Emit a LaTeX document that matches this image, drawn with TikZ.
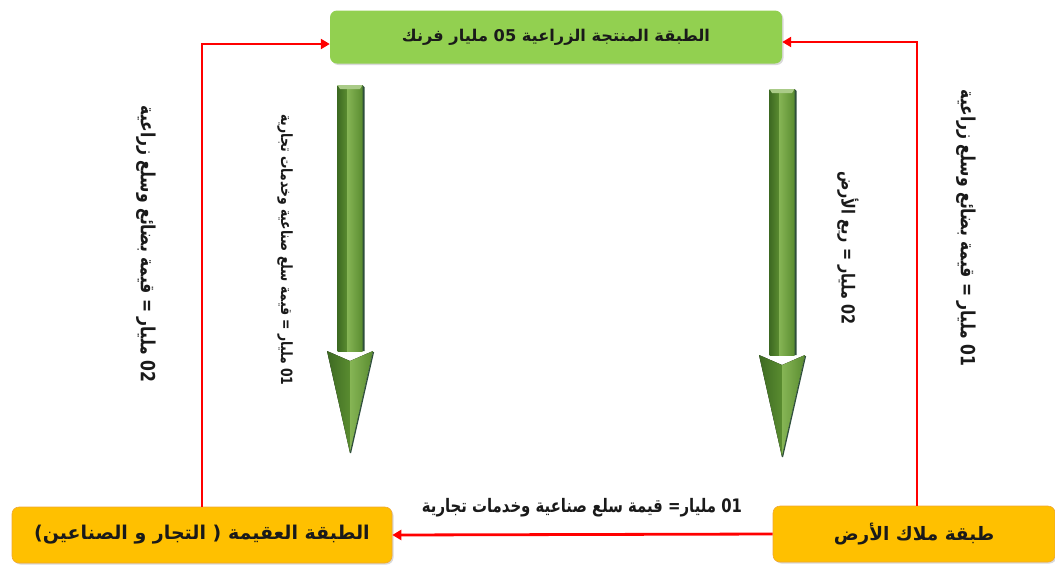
\documentclass[tikz,border=0pt]{standalone}
\usepackage{fontspec}
\usetikzlibrary{arrows.meta,shadows}
\TeXXeTstate=1
\newfontfamily\arabicfont[Script=Arabic]{DejaVu Sans}
\newfontfamily\arabicnarrow[Script=Arabic,FakeStretch=0.8]{DejaVu Sans}
\definecolor{boxgreen}{HTML}{92D050}
\definecolor{boxgold}{HTML}{FFC000}
\definecolor{goldedge}{HTML}{F0A830}
\definecolor{linered}{HTML}{FF0000}
\definecolor{gdark}{HTML}{3D6A22}
\definecolor{gmid}{HTML}{5A8C30}
\definecolor{glight}{HTML}{86B555}
\definecolor{gedge}{HTML}{2E4F3A}
\definecolor{txt}{HTML}{1A1A1A}
\tikzset{
  classbox/.style={rounded corners=7pt, inner sep=0pt, text=txt,
    drop shadow={shadow xshift=1.5pt, shadow yshift=-1.5pt, opacity=0.3}},
  topbox/.style={classbox, fill=boxgreen, minimum width=452pt, minimum height=53pt},
  goldbox/.style={classbox, fill=boxgold, draw=goldedge, line width=0.6pt, minimum height=56pt},
  redline/.style={draw=linered, line width=2.8pt, -{Triangle[length=9pt,width=10pt]}},
  vlabel/.style={rotate=-90, inner sep=0pt, text=txt},
  greenarrow/.pic={
    \fill[left color=gdark, right color=gmid] (-12.5,0) -- (-3,0) -- (-3,266) -- (-12.5,266) -- cycle;
    \fill[left color=glight, right color=gmid] (-3,0) -- (12.5,0) -- (12.5,266) -- (-3,266) -- cycle;
    \fill[gedge] (12.5,0) -- (14.5,2) -- (14.5,266) -- (12.5,266) -- cycle;
    \fill[glight!70!white] (-12.5,0) -- (12.5,0) -- (10,4) -- (-10,4) -- cycle;
    \fill[left color=gdark, right color=gmid] (-23,266) -- (0,276) -- (0,368) -- cycle;
    \fill[left color=glight, right color=gmid] (0,276) -- (23,266) -- (0,368) -- cycle;
    \draw[gedge, line width=1.2pt] (23.5,267) -- (0.5,368);
  }
}
\begin{document}
\begin{tikzpicture}[x=1pt,y=-1pt]
\useasboundingbox (0,0) rectangle (1055,566);

\node[topbox] (top) at (556,37) {\arabicfont\bfseries\fontsize{16.2}{19}\selectfont\beginR الطبقة المنتجة الزراعية \beginL 05\endL{} مليار فرنك\endR};
\node[goldbox, minimum width=380pt] (bl) at (202,535) {\arabicfont\bfseries\fontsize{19}{22}\selectfont\beginR الطبقة العقيمة ( التجار و الصناعين)\endR};
\node[goldbox, minimum width=282pt] (br) at (914,534) {\arabicfont\bfseries\fontsize{18.5}{22}\selectfont\beginR طبقة ملاك الأرض\endR};

\path[redline] (bl.north) |- ([yshift=-7pt]top.west);
\path[redline] ([xshift=3pt]br.north) |- ([yshift=-5pt]top.east);
\path[redline] (br.west) -- (bl.east);

\pic at (350,85) {greenarrow};
\pic at (782,89) {greenarrow};

\node[inner sep=0pt, text=txt] (lb) at (582,508) {\arabicnarrow\bfseries\fontsize{18.6}{20}\selectfont\beginR \beginL 01\endL{} مليار= قيمة سلع صناعية وخدمات تجارية\endR};

\node[vlabel] (lo) at (146,244) {\arabicnarrow\bfseries\fontsize{19.5}{22}\selectfont\beginR \beginL 02\endL{} مليار = قيمة بضائع وسلع زراعية\endR};
\node[vlabel] (ro) at (966,228) {\arabicnarrow\bfseries\fontsize{19.5}{22}\selectfont\beginR \beginL 01\endL{} مليار = قيمة بضائع وسلع زراعية\endR};
\node[vlabel] (li) at (285,250) {\arabicnarrow\bfseries\fontsize{15.5}{18}\selectfont\beginR \beginL 01\endL{} مليار = قيمة سلع صناعية وخدمات تجارية\endR};
\node[vlabel] (ri) at (848,248) {\arabicnarrow\bfseries\fontsize{18}{20}\selectfont\beginR \beginL 02\endL{} مليار = ريع الأرض\endR};
\end{tikzpicture}
\end{document}
